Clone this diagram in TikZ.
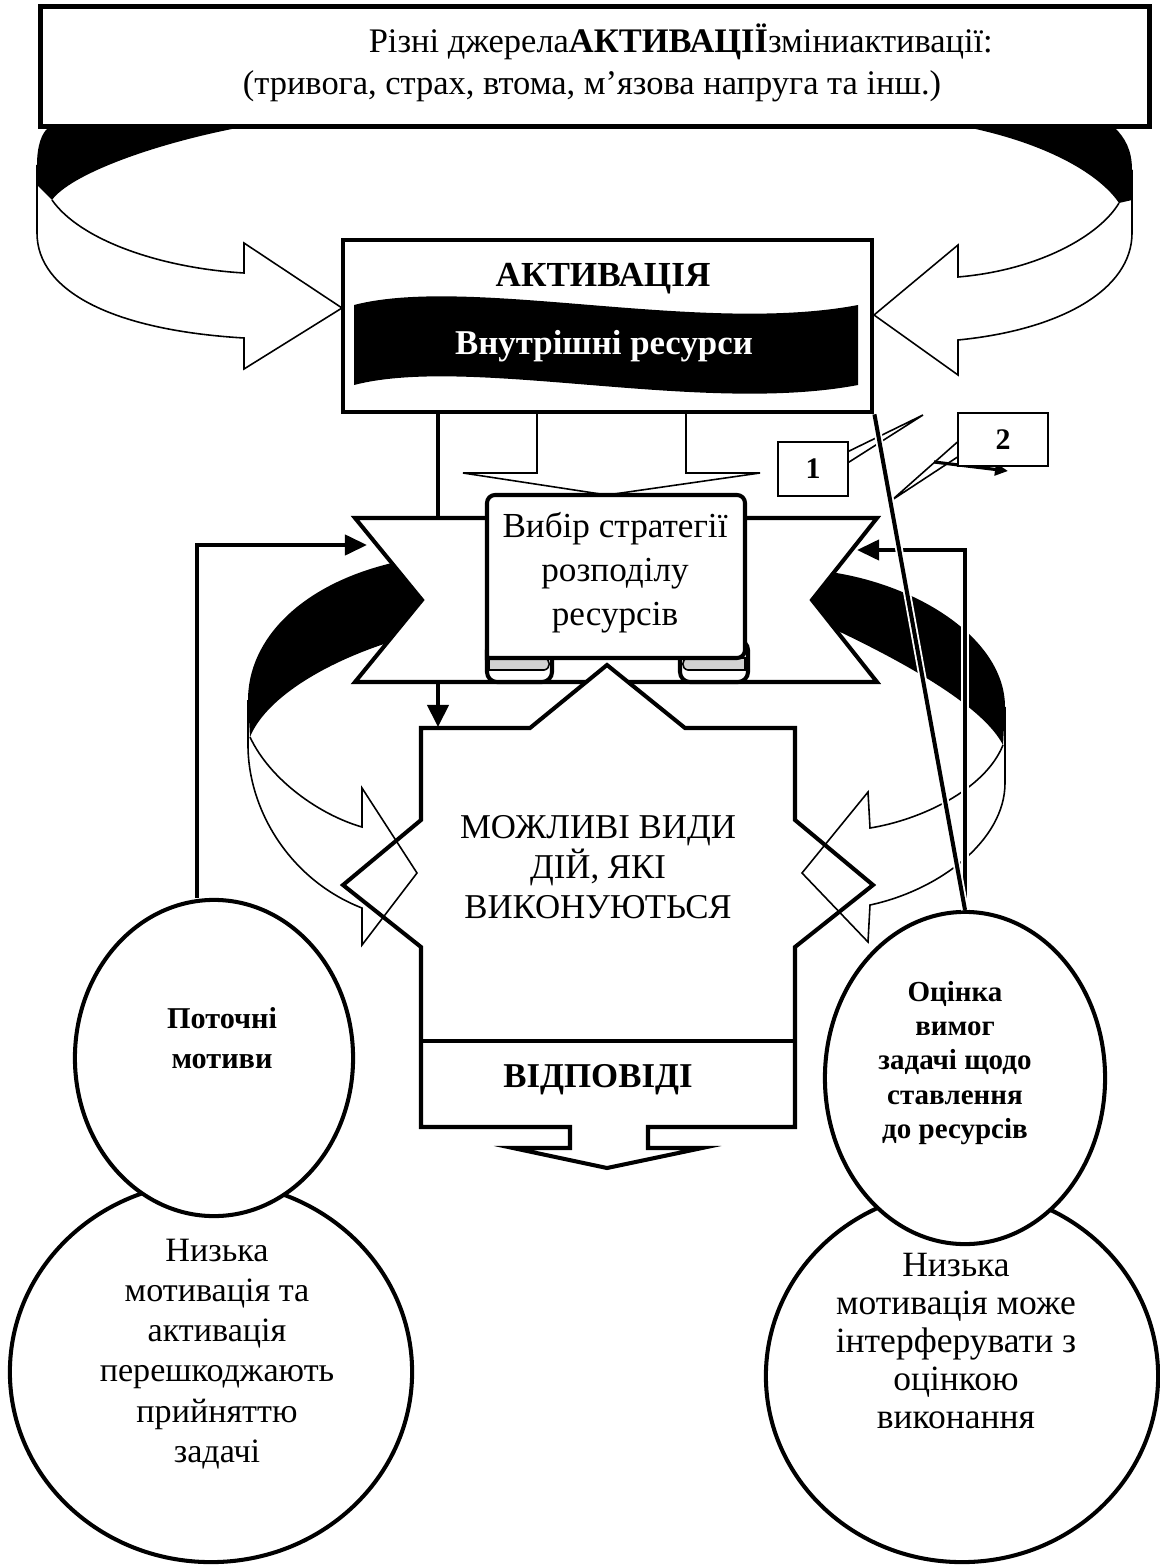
\documentclass[tikz,border=0pt]{standalone}
\usepackage{fontspec}
\setmainfont{Liberation Serif}
\usetikzlibrary{arrows.meta,shapes.geometric}
\newcommand\fsz[2]{\fontsize{#1}{#2}\selectfont}
\begin{document}
\begin{tikzpicture}[x=0.01cm,y=-0.01cm,line width=.45pt,
  fat/.style={line width=1.15pt}, frame/.style={draw,line width=1.3pt,fill=white,inner sep=0pt},
  oval/.style={ellipse,draw,fat,fill=white,inner sep=0pt}, lbl/.style={inner sep=0pt,align=center},
  tip/.style={-{Triangle[length=0.22cm,width=0.2cm]}}, tag/.style={draw,fill=white,inner sep=0pt,font={\fsz{8.5}{10}\bfseries}}]
\useasboundingbox (0,0) rectangle (1159,1567);
\fill (237,128) .. controls (150,145) and (70,175) .. (52,200) -- (37,185) -- (37,165) .. controls (37,145) and (42,133) .. (48,128) -- cycle;
\draw (52,200) .. controls (80,240) and (160,268) .. (244,273) -- (244,243) -- (342,308) -- (244,369) -- (244,338) .. controls (110,330) and (37,290) .. (37,233) -- (37,165);
\fill (971,128) .. controls (1050,145) and (1100,175) .. (1119,203) -- (1132,200) -- (1132,170) .. controls (1132,150) and (1125,138) .. (1115,128) -- cycle;
\draw (1119,203) .. controls (1100,235) and (1040,270) .. (958,277) -- (958,245) -- (874,315) -- (958,375) -- (958,340) .. controls (1060,330) and (1132,290) .. (1132,233) -- (1132,170);
\node[frame,minimum width=11.08cm,minimum height=1.2cm] (src) at (595,66.5) {};
\node[lbl,anchor=base west,font={\fsz{9.8}{11}}] (srcA) at (368,53) {Різні джерела\textbf{АКТИВАЦІЇ}зміниактивації:};
\node[lbl,anchor=base,font={\fsz{9.8}{11}}] (srcB) at (592,95) {(тривога, страх, втома, м'язова напруга та інш.)};
\node[frame,minimum width=5.29cm,minimum height=1.72cm] (act) at (607.5,326) {};
\fill (354,305) .. controls (470,275) and (700,335) .. (858,305) -- (858,385) .. controls (700,415) and (470,355) .. (354,385) -- cycle;
\node[lbl,anchor=base,font={\fsz{10}{11}\bfseries}] (actT) at (603,287) {АКТИВАЦІЯ};
\node[lbl,anchor=base,text=white,font={\fsz{9.9}{11}\bfseries}] (res) at (604,355) {Внутрішні ресурси};
\coordinate (s1) at (438,727);
\draw[fat,-{Triangle[length=0.22cm,width=0.21cm]}] (s1 |- act.south) -- (s1);
\draw (537,411) -- (537,473) -- (463,473) -- (607,495) -- (760,473) -- (686,473) -- (686,411);
\fill (392,563) .. controls (300,585) and (248,640) .. (248,700) -- (250,737) .. controls (265,700) and (320,665) .. (387,643) -- (422,600) -- cycle;
\fill (830,572) .. controls (920,585) and (1005,640) .. (1005,707) -- (1003,745) .. controls (985,710) and (920,670) .. (836,630) -- (812,600) -- cycle;
\draw[fat,fill=white] (355,518) -- (877,518) -- (812,600) -- (877,682) -- (355,682) -- (422,600) -- cycle;
\draw[fat,fill=white] (607,665) -- (685,728) -- (795,728) -- (795,820) -- (873,885) -- (795,947) -- (795,1127) -- (648,1127) -- (648,1148) -- (702,1148) -- (607,1168) -- (513,1148) -- (570,1148) -- (570,1127) -- (421,1127) -- (421,947) -- (343,885) -- (421,820) -- (421,728) -- (530,728) -- cycle;
\draw[fat] (421,1041) -- (795,1041);
\node[lbl,font={\fsz{9.9}{11.4}}] (acts) at (598,867) {МОЖЛИВІ ВИДИ\\ДІЙ, ЯКІ\\ВИКОНУЮТЬСЯ};
\node[lbl,anchor=base,font={\fsz{9.9}{11}\bfseries}] (resp) at (598,1087) {ВІДПОВІДІ};
\draw (248,700) -- (248,745) .. controls (248,810) and (290,880) .. (362,908) -- (362,945) -- (417,873) -- (362,788) -- (362,827) .. controls (320,815) and (270,780) .. (250,737);
\draw (1005,707) -- (1005,783) .. controls (1005,840) and (940,890) .. (870,905) -- (868,942) -- (802,873) -- (868,792) -- (870,828) .. controls (920,820) and (985,790) .. (1003,745);
\filldraw[fat,fill=white,rounded corners=0.1cm] (487,640) rectangle (552,682);
\filldraw[fill=gray!35] (489,658) -- (544,658) .. controls (551,659) and (551,669) .. (544,670) -- (489,670) -- cycle;
\filldraw[fat,fill=white,rounded corners=0.1cm] (680,640) rectangle (748,682);
\filldraw[fill=gray!35] (745,658) -- (688,658) .. controls (681,659) and (681,669) .. (688,670) -- (745,670) -- cycle;
\draw[fat,fill=white,rounded corners=0.08cm] (487,658) -- (487,495) -- (745,495) -- (745,658) [sharp corners] -- cycle;
\node[lbl,font={\fsz{10}{12.5}}] (strat) at (615,573) {Вибір стратегії\\розподілу\\ресурсів};
\draw[line width=.9pt,-{Triangle[length=0.13cm,width=0.12cm]}] (934,462) -- (1008,471);
\node[tag,minimum width=0.7cm,minimum height=0.54cm] (c1) at (813,469) {1};
\node[tag,minimum width=0.9cm,minimum height=0.53cm] (c2) at (1003,439.5) {2};
\coordinate (p1) at (923,415); \coordinate (p2) at (892,500);
\draw (c1.north east) ++(0,10) -- (p1) -- ([yshift=-0.21cm]c1.north east);
\draw (c2.north west) ++(0,30) -- (p2) -- ([yshift=-0.45cm]c2.north west);
\node[oval,minimum width=4.02cm,minimum height=3.8cm] (lowL) at (211,1372) {};
\node[oval,minimum width=2.78cm,minimum height=3.16cm] (mot) at (214,1058) {};
\node[oval,minimum width=3.92cm,minimum height=3.72cm] (lowR) at (962,1376) {};
\node[oval,minimum width=2.8cm,minimum height=3.32cm] (ev) at (965,1078) {};
\node[lbl,font={\fsz{8.6}{11.4}\bfseries}] (motT) at (222,1038) {Поточні\\мотиви};
\node[lbl,font={\fsz{9.7}{11.4}}] (lowLT) at (217,1354) {Низька\\мотивація та\\активація\\перешкоджають\\прийняттю\\задачі};
\node[lbl,font={\fsz{8.25}{9.8}\bfseries}] (evT) at (955,1063) {Оцінка\\вимог\\задачі щодо\\ставлення\\до ресурсів};
\node[lbl,font={\fsz{10.1}{10.75}}] (lowRT) at (956,1341) {Низька\\мотивація може\\інтерферувати з\\оцінкою\\виконання};
\coordinate (fbL) at (197,545); \coordinate (tL) at (367,545);
\draw[fat,tip] (mot.north -| fbL) -- (fbL) -- (tL);
\coordinate (fbR) at (965,550); \coordinate (tR) at (857,550);
\draw[white,line width=2.2pt] (ev.north) -- (fbR);
\draw[fat,tip] (ev.north) -- (fbR) -- (tR);
\draw[fat,preaction={draw=white,line width=2.2pt}] (act.south east) -- (ev.north);
\end{tikzpicture}
\end{document}
